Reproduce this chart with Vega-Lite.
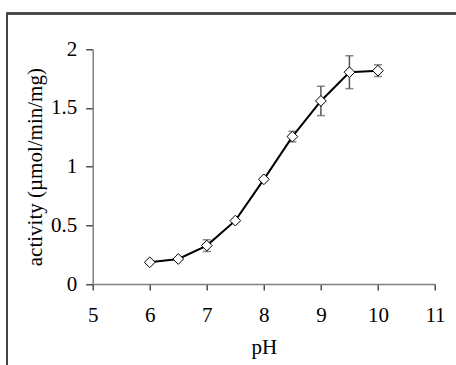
{
  "$schema": "https://vega.github.io/schema/vega-lite/v6.json",
  "autosize": "none",
  "padding": {"left": 92.7, "top": 49.3, "right": 21, "bottom": 81},
  "width": 342.3,
  "height": 234.7,
  "background": "white",
  "config": {
    "view": {"stroke": null},
    "font": "Liberation Serif",
    "axis": {
      "grid": false,
      "labelFont": "Liberation Serif",
      "titleFont": "Liberation Serif",
      "labelFontSize": 21,
      "titleFontSize": 21,
      "titleFontWeight": "normal",
      "labelColor": "black",
      "titleColor": "black",
      "domainColor": "#808080",
      "domainWidth": 1.5,
      "tickColor": "#222222",
      "tickWidth": 1.2
    }
  },
  "data": {
    "values": [
      {"pH": 6.0, "activity": 0.185, "err": 0.01},
      {"pH": 6.5, "activity": 0.213, "err": 0.01},
      {"pH": 7.0, "activity": 0.327, "err": 0.05},
      {"pH": 7.5, "activity": 0.54, "err": 0.01},
      {"pH": 8.0, "activity": 0.892, "err": 0.01},
      {"pH": 8.5, "activity": 1.256, "err": 0.045},
      {"pH": 9.0, "activity": 1.56, "err": 0.125},
      {"pH": 9.5, "activity": 1.805, "err": 0.14},
      {"pH": 10.0, "activity": 1.818, "err": 0.05}
    ]
  },
  "transform": [
    {"calculate": "datum.activity - datum.err", "as": "lo"},
    {"calculate": "datum.activity + datum.err", "as": "hi"}
  ],
  "encoding": {
    "x": {
      "field": "pH",
      "type": "quantitative",
      "title": "pH",
      "scale": {"domain": [5, 11], "nice": false, "zero": false},
      "axis": {"values": [5, 6, 7, 8, 9, 10, 11], "tickSize": 6, "labelPadding": 14, "titlePadding": 11, "labelFlush": false}
    },
    "y": {
      "field": "activity",
      "type": "quantitative",
      "title": "activity (µmol/min/mg)",
      "scale": {"domain": [0, 2], "nice": false, "zero": false},
      "axis": {"values": [0, 0.5, 1, 1.5, 2], "format": ".1~f", "tickSize": 7, "labelPadding": 9, "titlePadding": 5, "labelFlush": false}
    }
  },
  "layer": [
    {
      "mark": {"type": "rect", "filled": false, "stroke": "#444444", "strokeWidth": 1.5, "clip": false},
      "encoding": {
        "x": {"datum": 3.5, "type": "quantitative", "title": "pH", "scale": {"domain": [5, 11], "nice": false, "zero": false}},
        "x2": {"datum": 11.8},
        "y": {"datum": 2.305, "type": "quantitative", "title": "activity (µmol/min/mg)", "scale": {"domain": [0, 2], "nice": false, "zero": false}},
        "y2": {"datum": -0.8}
      }
    },
    {
      "mark": {"type": "rule", "color": "#555555", "strokeWidth": 1.5},
      "encoding": {
        "y": {"field": "lo", "type": "quantitative", "title": "activity (µmol/min/mg)", "scale": {"domain": [0, 2], "nice": false, "zero": false}},
        "y2": {"field": "hi"}
      }
    },
    {
      "mark": {"type": "tick", "orient": "horizontal", "color": "#555555", "size": 8, "thickness": 1.5},
      "encoding": {
        "y": {"field": "lo", "type": "quantitative", "title": "activity (µmol/min/mg)", "scale": {"domain": [0, 2], "nice": false, "zero": false}}
      }
    },
    {
      "mark": {"type": "tick", "orient": "horizontal", "color": "#555555", "size": 8, "thickness": 1.5},
      "encoding": {
        "y": {"field": "hi", "type": "quantitative", "title": "activity (µmol/min/mg)", "scale": {"domain": [0, 2], "nice": false, "zero": false}}
      }
    },
    {
      "mark": {"type": "line", "color": "black", "strokeWidth": 2}
    },
    {
      "mark": {"type": "point", "shape": "diamond", "size": 115, "filled": true, "fill": "white", "stroke": "black", "strokeWidth": 1, "opacity": 1}
    }
  ]
}
